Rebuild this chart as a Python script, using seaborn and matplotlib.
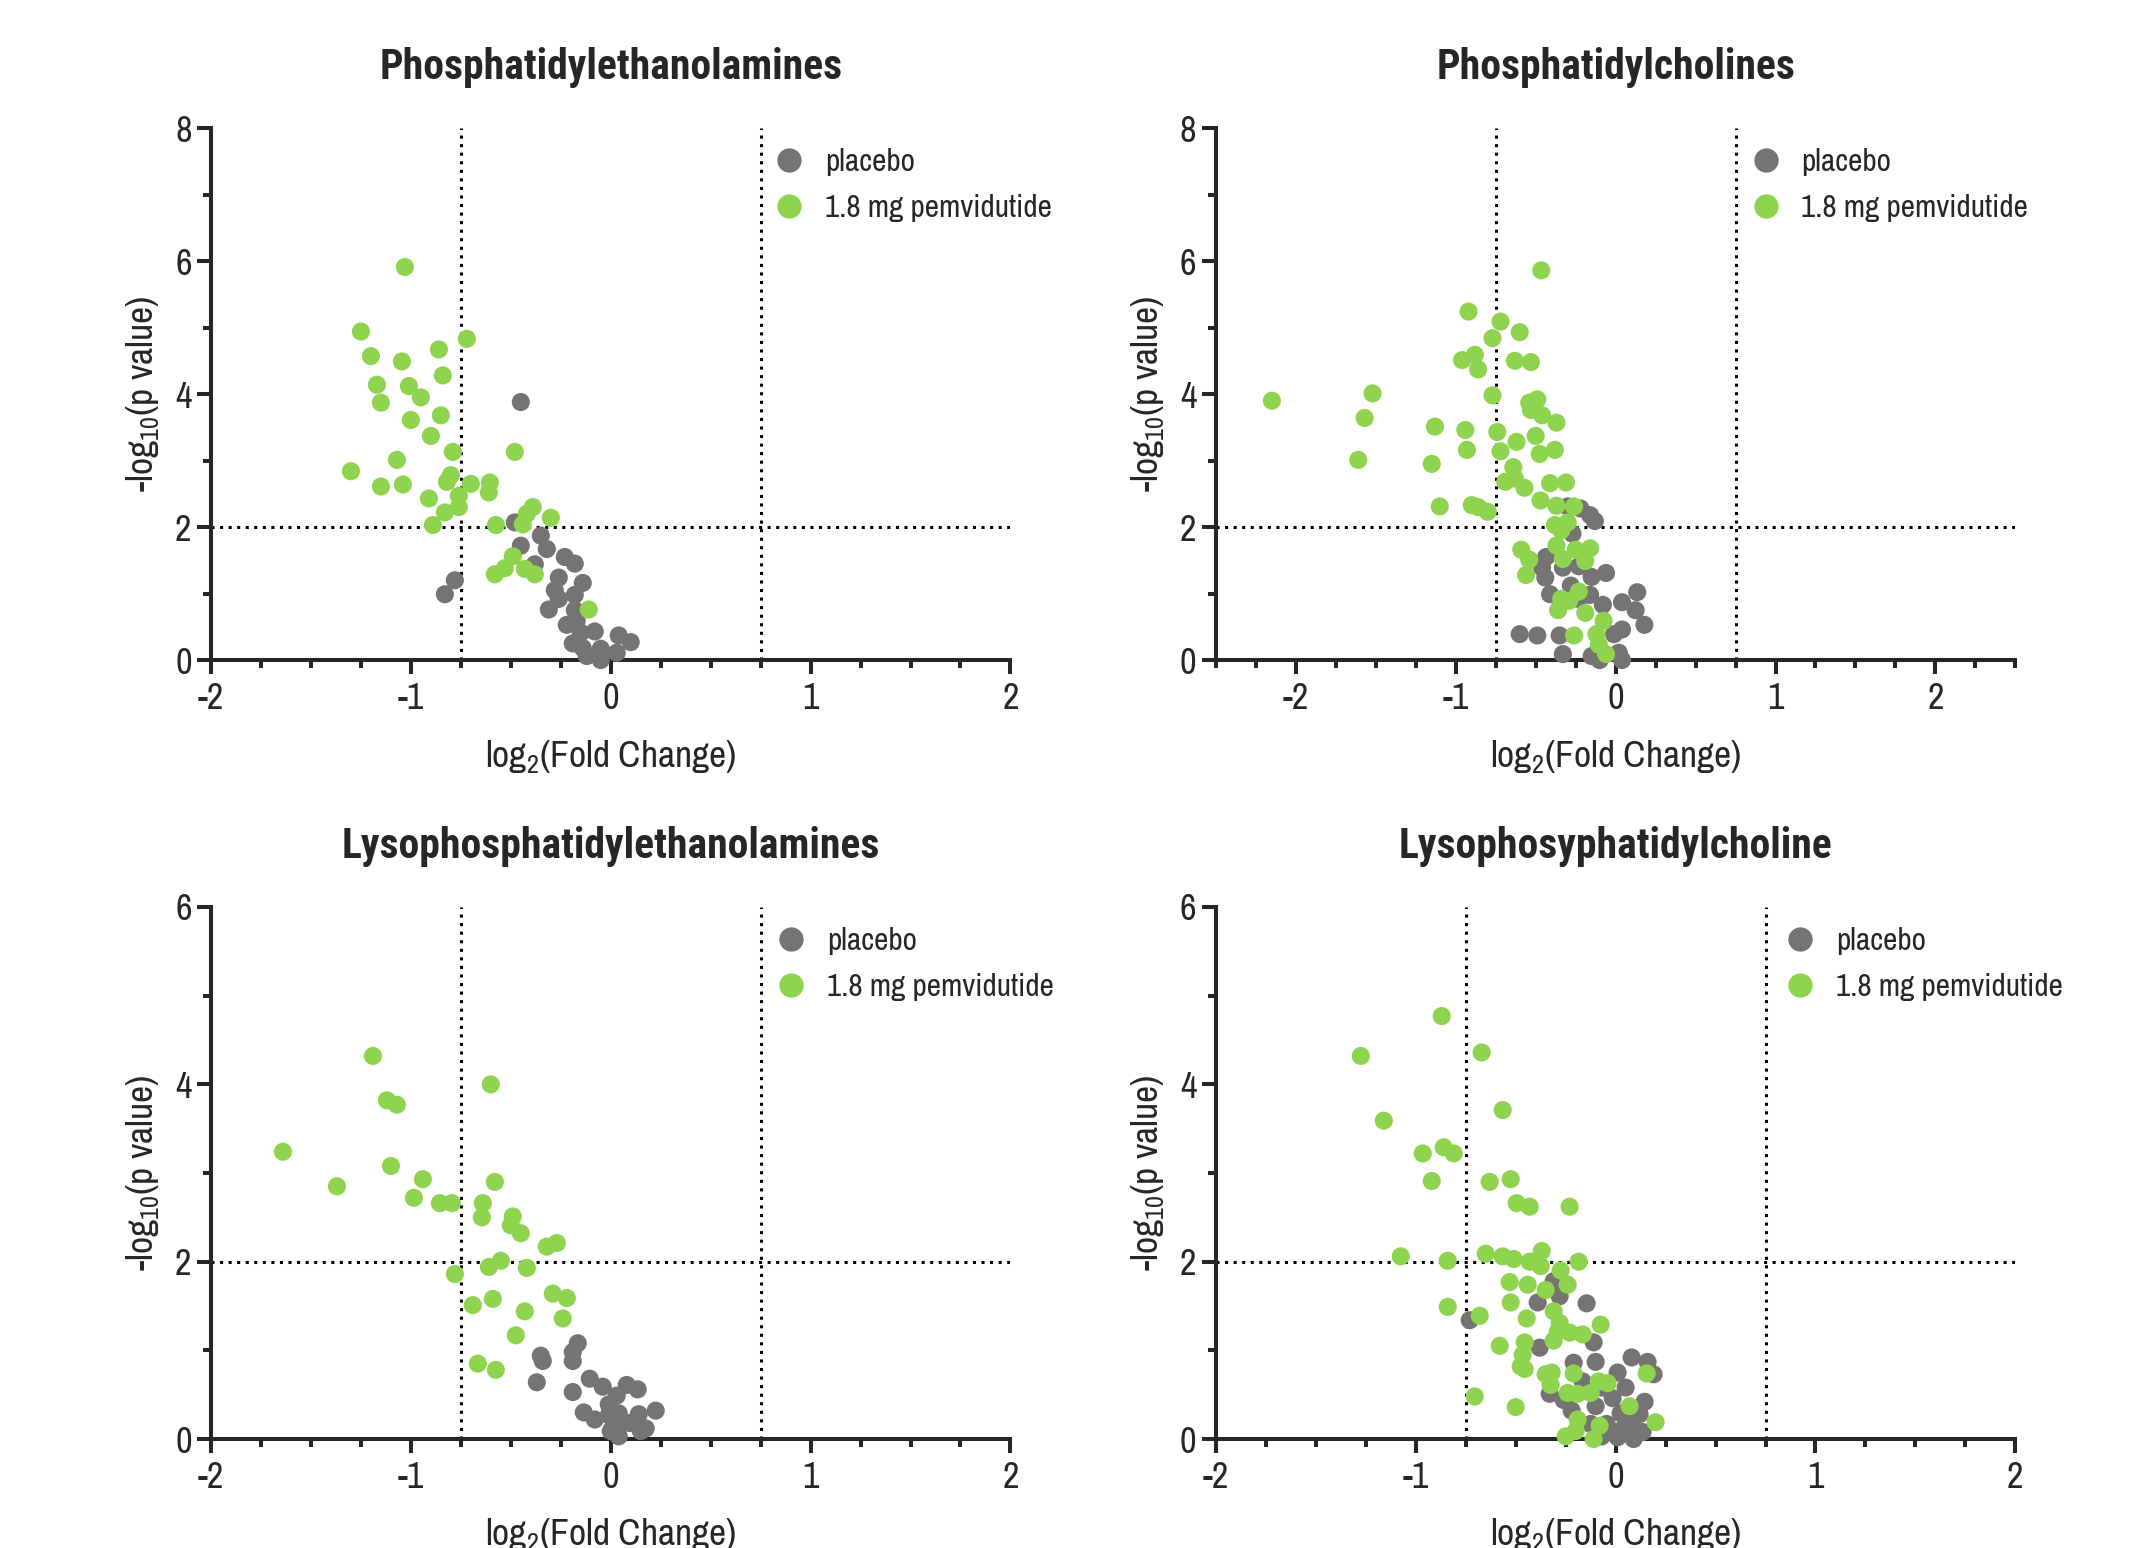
import matplotlib
matplotlib.use("Agg")
import matplotlib.pyplot as plt
from matplotlib.lines import Line2D
from matplotlib.ticker import MultipleLocator
import seaborn as sns
import pandas as pd

# ---- values (log2 fold change, -log10 p) ----
pe_placebo_x = [-0.45, -0.48, -0.35, -0.45, -0.32, -0.23, -0.18, -0.38, -0.78, -0.83, -0.26, -0.28, -0.14, -0.26,
                -0.18, -0.31, -0.18, -0.22, -0.17, -0.08, -0.15, -0.19, -0.12, -0.05, -0.05, 0.04, 0.10, 0.03, -0.14]
pe_placebo_y = [3.88, 2.07, 1.87, 1.72, 1.67, 1.55, 1.45, 1.44, 1.20, 0.99, 1.24, 1.05, 1.16, 0.92,
                0.98, 0.76, 0.75, 0.53, 0.59, 0.43, 0.41, 0.25, 0.06, 0.17, 0.0, 0.37, 0.27, 0.11, 0.18]
pe_drug_x = [-1.03, -1.25, -1.20, -1.045, -0.86, -0.72, -0.84, -1.17, -1.01, -0.95, -1.15, -0.85, -1.0, -0.90,
             -0.79, -0.48, -1.07, -1.30, -1.15, -1.04, -0.80, -0.82, -0.70, -0.605, -0.61, -0.91, -0.76, -0.76,
             -0.83, -0.89, -0.575, -0.39, -0.42, -0.44, -0.30, -0.49, -0.53, -0.58, -0.43, -0.38, -0.11]
pe_drug_y = [5.91, 4.94, 4.57, 4.49, 4.67, 4.83, 4.28, 4.14, 4.12, 3.95, 3.87, 3.68, 3.61, 3.37,
             3.13, 3.13, 3.01, 2.84, 2.61, 2.64, 2.78, 2.68, 2.65, 2.67, 2.52, 2.43, 2.47, 2.30,
             2.22, 2.03, 2.03, 2.30, 2.20, 2.04, 2.14, 1.56, 1.38, 1.29, 1.37, 1.29, 0.76]

pc_placebo_x = [-0.30, -0.22, -0.16, -0.13, -0.27, -0.435, -0.46, -0.44, -0.33, -0.23, -0.15, -0.06, -0.28,
                -0.41, -0.16, -0.08, 0.04, 0.135, 0.125, 0.18, 0.04, -0.01, -0.60, -0.49, -0.35, -0.33,
                -0.15, 0.02, 0.04, -0.10, -0.23]
pc_placebo_y = [2.31, 2.28, 2.18, 2.09, 1.90, 1.55, 1.39, 1.24, 1.39, 1.41, 1.25, 1.31, 1.12,
                0.99, 0.98, 0.83, 0.87, 1.02, 0.75, 0.53, 0.46, 0.39, 0.39, 0.37, 0.37, 0.09,
                0.06, 0.11, 0.0, 0.0, 0.92]
pc_drug_x = [-0.465, -0.92, -0.72, -0.60, -0.77, -0.96, -0.88, -0.86, -0.63, -0.53, -2.15, -1.52, -1.57,
             -1.61, -1.13, -1.15, -0.94, -0.93, -0.77, -0.74, -0.72, -0.54, -0.49, -0.53, -0.46, -0.37,
             -0.50, -0.62, -0.475, -0.38, -0.64, -0.69, -0.63, -0.57, -0.41, -0.31, -0.47, -0.37, -0.26,
             -1.10, -0.90, -0.86, -0.80, -0.38, -0.30, -0.34, -0.37, -0.59, -0.54, -0.33, -0.25, -0.16,
             -0.19, -0.56, -0.23, -0.34, -0.29, -0.36, -0.19, -0.075, -0.12, -0.26, -0.105, -0.06]
pc_drug_y = [5.86, 5.24, 5.09, 4.93, 4.84, 4.51, 4.59, 4.37, 4.50, 4.48, 3.90, 4.01, 3.64,
             3.01, 3.51, 2.95, 3.46, 3.16, 3.98, 3.43, 3.14, 3.87, 3.92, 3.76, 3.68, 3.57,
             3.37, 3.28, 3.10, 3.16, 2.90, 2.68, 2.73, 2.59, 2.66, 2.67, 2.40, 2.32, 2.31,
             2.31, 2.33, 2.30, 2.23, 2.03, 2.07, 1.95, 1.72, 1.66, 1.51, 1.52, 1.66, 1.68,
             1.49, 1.28, 1.03, 0.92, 0.89, 0.75, 0.71, 0.59, 0.39, 0.37, 0.23, 0.09]

lpe_placebo_x = [-0.165, -0.19, -0.19, -0.35, -0.34, -0.37, -0.19, -0.105, -0.04, 0.08, 0.135, 0.03, -0.01,
                 -0.135, -0.08, 0.04, 0.14, 0.225, 0.015, 0.095, 0.175, 0.15, 0.04, 0.0, -0.01]
lpe_placebo_y = [1.08, 0.98, 0.88, 0.94, 0.88, 0.64, 0.53, 0.68, 0.59, 0.61, 0.56, 0.49, 0.39,
                 0.30, 0.22, 0.29, 0.28, 0.32, 0.15, 0.18, 0.12, 0.09, 0.03, 0.09, 0.27]
lpe_drug_x = [-1.19, -0.60, -1.12, -1.07, -1.64, -1.37, -1.10, -0.94, -0.985, -0.855, -0.795, -0.58, -0.64,
              -0.645, -0.49, -0.50, -0.45, -0.32, -0.27, -0.55, -0.61, -0.42, -0.78, -0.29, -0.22, -0.59,
              -0.69, -0.43, -0.24, -0.475, -0.665, -0.575]
lpe_drug_y = [4.32, 4.0, 3.82, 3.77, 3.24, 2.85, 3.08, 2.93, 2.72, 2.66, 2.66, 2.90, 2.66,
              2.50, 2.51, 2.41, 2.32, 2.17, 2.21, 2.01, 1.94, 1.93, 1.86, 1.64, 1.59, 1.58,
              1.51, 1.44, 1.36, 1.17, 0.85, 0.78]

lpc_placebo_x = [-0.73, -0.31, -0.28, -0.39, -0.145, -0.38, -0.11, 0.08, 0.16, 0.19, -0.21, -0.10, 0.01,
                 0.05, 0.145, -0.33, -0.26, -0.22, -0.10, -0.015, 0.025, 0.12, -0.045, 0.04, 0.135,
                 -0.07, 0.01, 0.09, -0.125, 0.08, -0.015, -0.165, -0.07]
lpc_placebo_y = [1.34, 1.78, 1.61, 1.54, 1.53, 1.03, 1.09, 0.92, 0.87, 0.73, 0.86, 0.87, 0.75,
                 0.58, 0.42, 0.51, 0.44, 0.32, 0.37, 0.46, 0.29, 0.28, 0.17, 0.12, 0.08,
                 0.03, 0.02, 0.0, 0.17, 0.20, 0.08, 0.65, 0.58]
lpc_drug_x = [-0.87, -1.275, -0.67, -0.565, -1.16, -0.86, -0.81, -0.965, -0.92, -0.63, -0.525, -0.495, -0.43,
              -0.23, -1.075, -0.84, -0.65, -0.565, -0.51, -0.37, -0.43, -0.375, -0.275, -0.185, -0.53, -0.44,
              -0.24, -0.35, -0.525, -0.84, -0.68, -0.445, -0.31, -0.28, -0.075, -0.29, -0.23, -0.165, -0.31,
              -0.455, -0.58, -0.465, -0.475, -0.455, -0.35, -0.32, -0.325, -0.21, -0.085, -0.04, -0.125,
              -0.19, -0.24, 0.155, 0.07, 0.20, -0.705, -0.50, -0.19, -0.20, -0.25, -0.08, -0.11]
lpc_drug_y = [4.77, 4.32, 4.36, 3.71, 3.59, 3.29, 3.22, 3.22, 2.91, 2.90, 2.93, 2.66, 2.62,
              2.62, 2.06, 2.01, 2.09, 2.06, 2.03, 2.12, 2.0, 1.95, 1.90, 2.0, 1.77, 1.74,
              1.74, 1.68, 1.54, 1.49, 1.39, 1.36, 1.44, 1.31, 1.29, 1.21, 1.20, 1.18, 1.11,
              1.09, 1.05, 0.95, 0.82, 0.79, 0.73, 0.75, 0.61, 0.74, 0.65, 0.63, 0.52,
              0.51, 0.52, 0.74, 0.37, 0.19, 0.48, 0.36, 0.22, 0.09, 0.03, 0.15, 0.0]

titles = ["Phosphatidylethanolamines", "Phosphatidylcholines",
          "Lysophosphatidylethanolamines", "Lysophosyphatidylcholine"]
groups = ["placebo", "1.8 mg pemvidutide"]
colors = ["#767373", "#8ed44e"]

sns.set_style("ticks")
plt.rcParams["font.family"] = ["Archivo Narrow", "Roboto Condensed", "Liberation Sans", "DejaVu Sans"]
plt.rcParams["mathtext.default"] = "regular"
plt.rcParams["axes.unicode_minus"] = False
TITLE_FONT = ["Roboto Condensed", "Liberation Sans", "DejaVu Sans"]


def make_df(px, py, dx, dy):
    df1 = pd.DataFrame({"fc": px, "p": py, "group": groups[0]})
    df2 = pd.DataFrame({"fc": dx, "p": dy, "group": groups[1]})
    return pd.concat([df1, df2], ignore_index=True)


panels = [
    (make_df(pe_placebo_x, pe_placebo_y, pe_drug_x, pe_drug_y), (-2, 2), 8, 0.704),
    (make_df(pc_placebo_x, pc_placebo_y, pc_drug_x, pc_drug_y), (-2.5, 2.5), 8, 0.668),
    (make_df(lpe_placebo_x, lpe_placebo_y, lpe_drug_x, lpe_drug_y), (-2, 2), 6, 0.706),
    (make_df(lpc_placebo_x, lpc_placebo_y, lpc_drug_x, lpc_drug_y), (-2, 2), 6, 0.711),
]

fig = plt.figure(figsize=(21.49, 15.48), dpi=100)
lefts = [0.0982, 0.5658, 0.0982, 0.5658]
bottoms = [0.5736, 0.5736, 0.0704, 0.0704]
dots = (0, (1, 1.8))

for i, (df, xlim, ymax, leg_x) in enumerate(panels):
    ax = fig.add_axes([lefts[i], bottoms[i], 0.372, 0.3437])
    ax.axvline(-0.75, color="black", lw=2.2, ls=dots, zorder=1)
    ax.axvline(0.75, color="black", lw=2.2, ls=dots, zorder=1)
    ax.axhline(2, color="black", lw=2.2, ls=dots, zorder=1)
    sns.scatterplot(data=df, x="fc", y="p", hue="group", hue_order=groups, palette=colors,
                    s=170, linewidth=0, ax=ax, legend=False, clip_on=False, zorder=3)
    ax.set_xlim(*xlim)
    ax.set_ylim(0, ymax)
    ax.xaxis.set_major_locator(MultipleLocator(1))
    ax.xaxis.set_minor_locator(MultipleLocator(0.25))
    ax.yaxis.set_major_locator(MultipleLocator(2))
    ax.yaxis.set_minor_locator(MultipleLocator(1))
    sns.despine(ax=ax)
    for sp in ["left", "bottom"]:
        ax.spines[sp].set_linewidth(2.9)
    ax.tick_params(which="major", length=10, width=2.9, labelsize=26)
    ax.tick_params(which="minor", length=5.5, width=2.9)
    ax.tick_params(axis="x", which="major", pad=6)
    ax.tick_params(axis="y", which="major", pad=4)
    ax.set_title(titles[i], fontsize=30, fontweight="bold", pad=35, family=TITLE_FONT)
    ax.set_xlabel("log$_2$(Fold Change)", fontsize=27, labelpad=16)
    ax.set_ylabel("-log$_{10}$(p value)", fontsize=27, labelpad=10)
    handles = [Line2D([], [], marker="o", ls="", color=c, markersize=16.5) for c in colors]
    ax.legend(handles, groups, loc="center left", bbox_to_anchor=(leg_x, 0.893),
              frameon=False, fontsize=22.5, handletextpad=0.65, labelspacing=0.6,
              borderpad=0, borderaxespad=0, handlelength=1.0)

fig.savefig("out.png", dpi=100)
